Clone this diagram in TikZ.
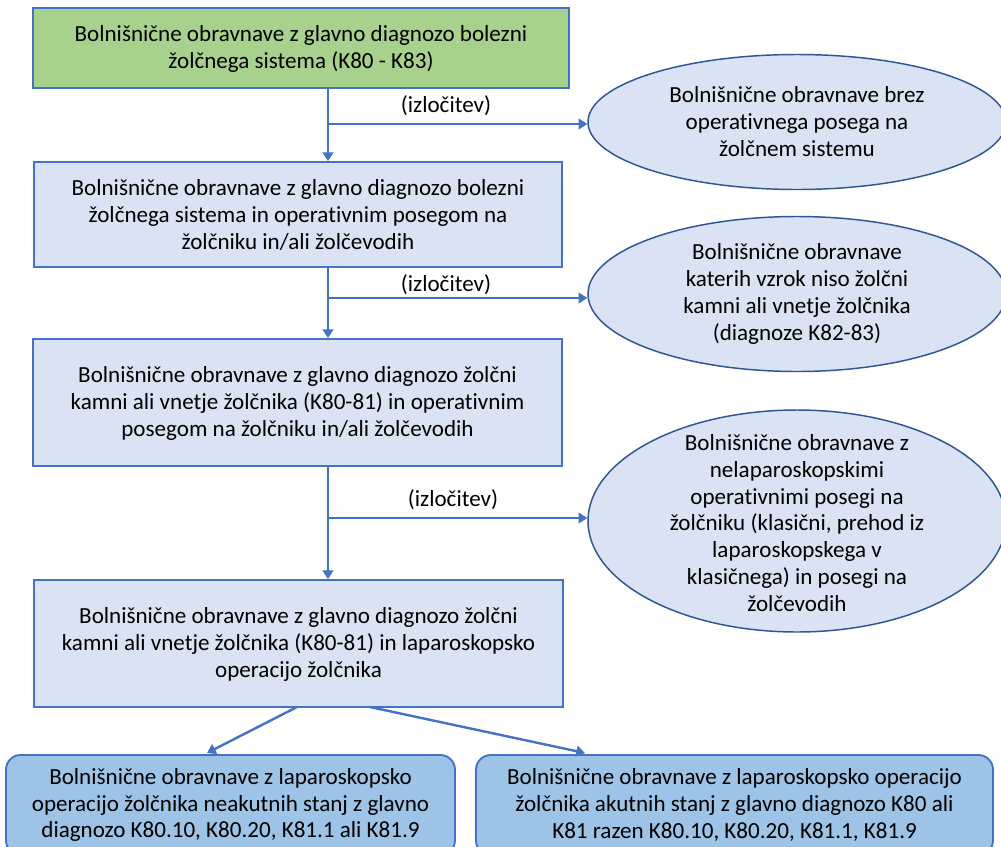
\documentclass[tikz,border=0pt]{standalone}
\usepackage{fontspec}
\setmainfont{Carlito}[Ligatures=NoCommon]
\usetikzlibrary{shapes.geometric,arrows.meta}
\definecolor{bordblue}{HTML}{4472C4}
\definecolor{ellblue}{HTML}{2F5597}
\definecolor{greenfill}{HTML}{A9D18E}
\definecolor{lightfill}{HTML}{DAE3F3}
\definecolor{midfill}{HTML}{9DC3E6}
\tikzset{
  px/.style={x=0.75pt,y=-0.75pt},
  txt/.style={font=\fontsize{17.3}{20.2}\selectfont, align=center, inner sep=0pt, text=black},
  boxshape/.style={draw=bordblue, line width=1.4pt, rectangle, inner sep=0pt},
  ellshape/.style={draw=ellblue, line width=1.1pt, ellipse, fill=lightfill, inner sep=0pt, minimum width=313.5pt},
  bottombox/.style={draw=bordblue, line width=1.4pt, fill=midfill, rounded corners=11pt, inner sep=0pt, minimum height=75pt},
  arr/.style={draw=bordblue, line width=1.8pt, -{Triangle[length=6.5pt,width=8pt]}},
}
\begin{document}
\begin{tikzpicture}[px]
\clip (0,0) rectangle (1001,847);
\fill[white] (0,0) rectangle (1001,847);
% main boxes
\node[boxshape, fill=greenfill, minimum width=402pt, minimum height=60pt] (b1) at (301,48) {};
\node[txt] (t1) at (301,49) {Bolnišnične obravnave z glavno diagnozo bolezni\\žolčnega sistema (K80 - K83)};
\node[boxshape, fill=lightfill, minimum width=396pt, minimum height=78.75pt] (b2) at (298,214.5) {};
\node[txt] (t2) at (298,215) {Bolnišnične obravnave z glavno diagnozo bolezni\\žolčnega sistema in operativnim posegom na\\žolčniku in/ali žolčevodih};
\node[boxshape, fill=lightfill, minimum width=396.75pt, minimum height=95.25pt] (b3) at (297.5,402.5) {};
\node[txt] (t3) at (297.5,403.5) {Bolnišnične obravnave z glavno diagnozo žolčni\\kamni ali vnetje žolčnika (K80-81) in operativnim\\posegom na žolčniku in/ali žolčevodih};
\node[boxshape, fill=lightfill, minimum width=396.75pt, minimum height=95.25pt] (b4) at (298.5,643.5) {};
\node[txt] (t4) at (298.5,644.5) {Bolnišnične obravnave z glavno diagnozo žolčni\\kamni ali vnetje žolčnika (K80-81) in laparoskopsko\\operacijo žolčnika};
% ellipses
\node[ellshape, minimum height=101.25pt] (e1) at (797,122) {};
\node[txt] (te1) at (797,122) {Bolnišnične obravnave brez\\operativnega posega na\\žolčnem sistemu};
\node[ellshape, minimum height=116.25pt] (e2) at (797,294) {};
\node[txt] (te2) at (797,294) {Bolnišnične obravnave\\katerih vzrok niso žolčni\\kamni ali vnetje žolčnika\\(diagnoze K82-83)};
\node[ellshape, minimum height=166.5pt] (e3) at (797,521) {};
\node[txt] (te3) at (797,523) {Bolnišnične obravnave z\\nelaparoskopskimi\\operativnimi posegi na\\žolčniku (klasični, prehod iz\\laparoskopskega v\\klasičnega) in posegi na\\žolčevodih};
% bottom boxes
\node[bottombox, minimum width=336.75pt] (l1) at (230.5,805) {};
\node[txt] (tl1) at (230.5,805) {Bolnišnične obravnave z laparoskopsko\\operacijo žolčnika neakutnih stanj z glavno\\diagnozo K80.10, K80.20, K81.1 ali K81.9};
\node[bottombox, minimum width=387.75pt] (r1) at (734.5,805) {};
\node[txt] (tr1) at (734.5,805) {Bolnišnične obravnave z laparoskopsko operacijo\\žolčnika akutnih stanj z glavno diagnozo K80 ali\\K81 razen K80.10, K80.20, K81.1, K81.9};
% junction coordinates
\coordinate (j1) at (328,124);
\coordinate (j2) at (328,298);
\coordinate (j3) at (328,518);
\coordinate (s1) at (297,707);
\coordinate (s2) at (370,707);
\coordinate (d1) at (207,753);
\coordinate (d2) at (585,753);
% connectors
\draw[arr] (b1.south -| j1) -- (b2.north -| j1);
\draw[arr] (j1) -- (j1 -| e1.west);
\draw[arr] (b2.south -| j2) -- (b3.north -| j2);
\draw[arr] (j2) -- (j2 -| e2.west);
\draw[arr] (b3.south -| j3) -- (b4.north -| j3);
\draw[arr] (j3) -- (j3 -| e3.west);
\draw[arr] (s1) -- (d1);
\draw[arr] (s2) -- (d2);
% labels
\node[txt] (lab1) at (446,106) {(izločitev)};
\node[txt] (lab2) at (446,285) {(izločitev)};
\node[txt] (lab3) at (453,500) {(izločitev)};
\end{tikzpicture}
\end{document}
